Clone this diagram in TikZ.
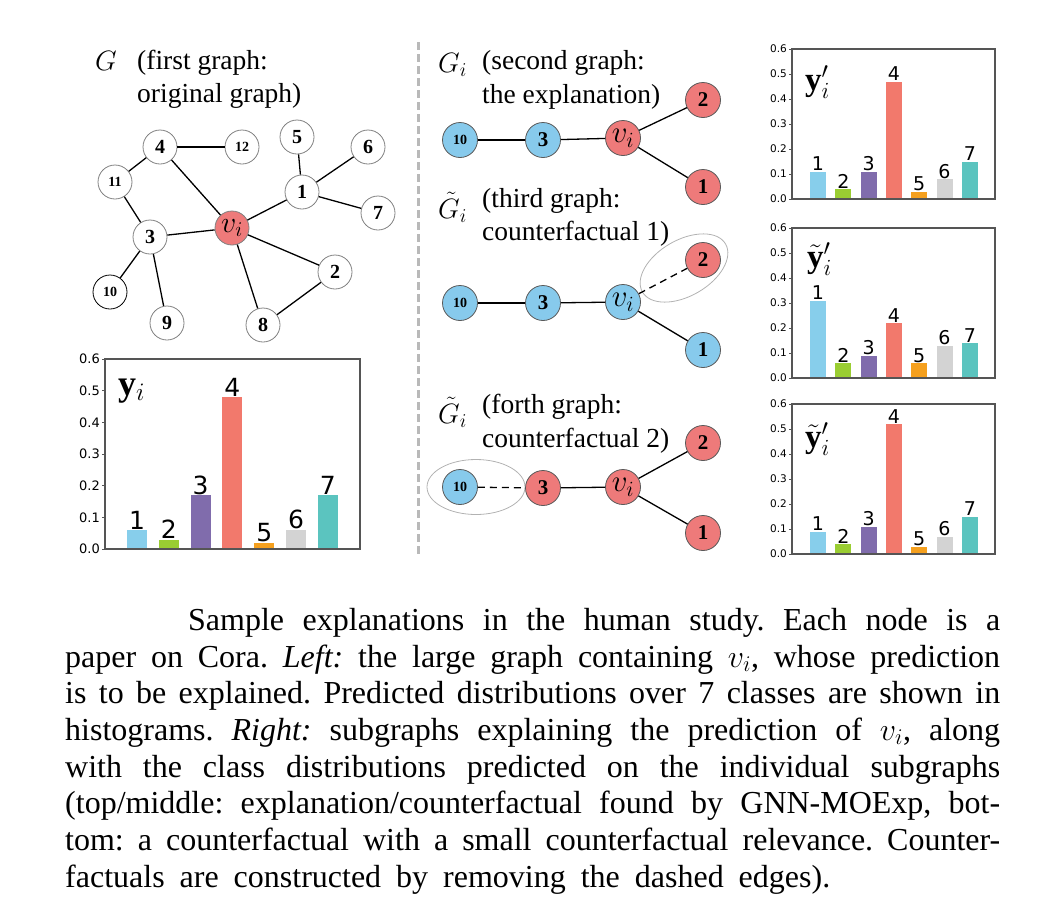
\RequirePackage{fix-cm}
\documentclass[tikz,border=0pt]{standalone}
\usepackage{fontspec}
\setmainfont{Liberation Serif}
\newfontfamily\dejavu{DejaVu Sans}
\usetikzlibrary{shapes.geometric}
\definecolor{bar1}{RGB}{135,206,235}
\definecolor{bar2}{RGB}{154,205,50}
\definecolor{bar3}{RGB}{128,108,172}
\definecolor{bar4}{RGB}{242,121,108}
\definecolor{bar5}{RGB}{245,160,30}
\definecolor{bar6}{RGB}{211,211,211}
\definecolor{bar7}{RGB}{91,196,191}
\definecolor{nred}{RGB}{238,122,122}
\definecolor{nblue}{RGB}{135,202,236}
\definecolor{framegray}{RGB}{85,85,85}
\newcommand{\drawhist}[8]{%
  \pgfmathsetmacro\unitH{(#5-#3)/6}%
  \foreach \v [count=\k] in {#8} {
    \pgfmathsetmacro\cx{#6+(\k-1)*#7}
    \pgfmathsetmacro\ty{#5-\v*10*\unitH}
    \fill[bar\k] (\cx-\hw,#5) rectangle (\cx+\hw,\ty);
    \node[barlab, name=#1b\k] at (\cx,\ty) {\k};
  }
  \foreach \t in {0,...,6} {
    \draw[framegray, line width=0.8pt] (#2,#5-\t*\unitH) -- (#2-3.5,#5-\t*\unitH);
    \node[ticklab, name=#1t\t] at (#2-5,#5-\t*\unitH) {0.\t};
  }
  \draw[framegray, line width=1.2pt] (#2,#3) rectangle (#4,#5);
}
\frenchspacing
\begin{document}
\begin{tikzpicture}[x=1pt,y=-1pt,
  gn/.style={circle, draw=gray, line width=0.8pt, fill=white, minimum size=34pt, inner sep=0pt, font=\fontsize{20}{20}\selectfont\bfseries},
  gs/.style={gn, font=\fontsize{14}{14}\selectfont\bfseries},
  gvi/.style={gn, fill=nred, font=\fontsize{30}{30}\selectfont},
  mn/.style={circle, draw=gray!70!black, line width=0.8pt, minimum size=35pt, inner sep=0pt, font=\fontsize{21}{21}\selectfont\bfseries},
  ms/.style={mn, font=\fontsize{14}{14}\selectfont\bfseries},
  mvi/.style={mn, font=\fontsize{31}{31}\selectfont},
  edge/.style={line width=1.3pt, black},
  dedge/.style={line width=1.3pt, black, dash pattern=on 7pt off 5pt},
  ring/.style={ellipse, draw=gray!60, line width=0.8pt, inner sep=0pt},
  lbl/.style={anchor=base west, inner sep=0pt, font=\fontsize{27.5}{27.5}\selectfont},
  mlbl/.style={anchor=base west, inner sep=0pt, font=\fontsize{28}{28}\selectfont},
  captxt/.style={anchor=base west, inner sep=0pt, font=\fontsize{32}{36}\selectfont},
  ylbl/.style={anchor=base west, inner sep=0pt, font=\fontsize{33}{33}\selectfont}
]
\useasboundingbox (0,0) rectangle (1062,900);

% ---------- left graph
\node[mlbl] (Glab) at (95,70) {$G$};
\node[lbl] (Gt1) at (137,69) {(first graph:};
\node[lbl] (Gt2) at (137,102) {original graph)};
\node[gn] (n4) at (160,147) {4};
\node[gs] (n12) at (242,147) {12};
\node[gn] (n5) at (297,137) {5};
\node[gn] (n6) at (368,147) {6};
\node[gs] (n11) at (115,182) {11};
\node[gn] (n1) at (302,192) {1};
\node[gn] (n7) at (378,213) {7};
\node[gn] (n3) at (150,237) {3};
\node[gvi] (nvi) at (232,228) {$v_i$};
\node[gn] (n2) at (335,272) {2};
\node[gs, draw=black] (n10) at (110,292) {10};
\node[gn] (n9) at (167,323) {9};
\node[gn] (n8) at (263,325) {8};
\draw[edge] (n4) -- (n12);
\draw[edge] (n4) -- (n11);
\draw[edge] (n11) -- (n3);
\draw[edge] (n4) -- (nvi);
\draw[edge] (n3) -- (nvi);
\draw[edge] (n3) -- (n10);
\draw[edge] (n3) -- (n9);
\draw[edge] (nvi) -- (n1);
\draw[edge] (n1) -- (n5);
\draw[edge] (n1) -- (n6);
\draw[edge] (n1) -- (n7);
\draw[edge] (nvi) -- (n2);
\draw[edge] (nvi) -- (n8);
\draw[edge] (n8) -- (n2);

% ---------- separator
\coordinate (sepT) at (418,42);
\coordinate (sepB) at (418,556);
\draw[gray!55, line width=3pt, dash pattern=on 8pt off 4pt] (sepT) -- (sepB);

% ---------- graph 1 (explanation)
\node[mlbl] (G1lab) at (438,72) {$G_i$};
\node[lbl] (G1t1) at (482,69) {(second graph:};
\node[lbl] (G1t2) at (482,103) {the explanation)};
\node[ms, fill=nblue] (a10) at (460,140) {10};
\node[mn, fill=nblue] (a3) at (543,140) {3};
\node[mvi, fill=nred] (avi) at (623,138) {$v_i$};
\node[mn, fill=nred] (a2) at (703,100) {2};
\node[mn, fill=nred] (a1) at (703,187) {1};
\draw[edge] (a10) -- (a3);
\draw[edge] (a3) -- (avi);
\draw[edge] (avi) -- (a2);
\draw[edge] (avi) -- (a1);

% ---------- graph 2 (counterfactual 1)
\node[mlbl] (G2lab) at (438,218) {$\tilde{G}_i$};
\node[lbl] (G2t1) at (482,207) {(third graph:};
\node[lbl] (G2t2) at (482,240) {counterfactual 1)};
\node[ring, minimum width=96pt, minimum height=56pt, rotate=30] (r2) at (684,268) {};
\node[ms, fill=nblue] (b10) at (460,303) {10};
\node[mn, fill=nblue] (b3) at (543,303) {3};
\node[mvi, fill=nblue] (bvi) at (623,302) {$v_i$};
\node[mn, fill=nred] (b2) at (703,260) {2};
\node[mn, fill=nblue] (b1) at (703,350) {1};
\draw[edge] (b10) -- (b3);
\draw[edge] (b3) -- (bvi);
\draw[dedge] (bvi) -- (b2);
\draw[edge] (bvi) -- (b1);

% ---------- graph 3 (counterfactual 2)
\node[mlbl] (G3lab) at (438,423) {$\tilde{G}_i$};
\node[lbl] (G3t1) at (482,413) {(forth graph:};
\node[lbl] (G3t2) at (482,447) {counterfactual 2)};
\node[ring, minimum width=98pt, minimum height=55pt] (r3) at (476,487) {};
\node[ms, fill=nblue] (c10) at (460,487) {10};
\node[mn, fill=nred] (c3) at (543,488) {3};
\node[mvi, fill=nred] (cvi) at (623,487) {$v_i$};
\node[mn, fill=nred] (c2) at (703,443) {2};
\node[mn, fill=nred] (c1) at (703,533) {1};
\draw[dedge] (c10) -- (c3);
\draw[edge] (c3) -- (cvi);
\draw[edge] (cvi) -- (c2);
\draw[edge] (cvi) -- (c1);

% ---------- left histogram
\def\hw{10}
\tikzset{barlab/.style={anchor=south, inner sep=0.5pt, font=\dejavu\fontsize{25}{25}\selectfont},
         ticklab/.style={anchor=east, inner sep=0pt, font=\dejavu\fontsize{13}{13}\selectfont}}
\drawhist{L}{105}{359}{360}{549}{137}{31.8}{0.06,0.03,0.17,0.48,0.02,0.06,0.17}
\node[ylbl, font=\fontsize{36}{36}\selectfont] (yL) at (118,395) {$\mathbf{y}_i$};

% ---------- right histograms
\def\hw{8}
\tikzset{barlab/.style={anchor=south, inner sep=0.5pt, font=\dejavu\fontsize{19}{19}\selectfont},
         ticklab/.style={anchor=east, inner sep=0pt, font=\dejavu\fontsize{10.5}{10.5}\selectfont}}
\drawhist{A}{792}{49}{995}{199}{818}{25.3}{0.11,0.04,0.11,0.47,0.03,0.08,0.15}
\node[ylbl] (yA) at (805,90) {$\mathbf{y}'_i$};
\drawhist{B}{792}{228}{995}{378}{818}{25.3}{0.31,0.06,0.09,0.22,0.06,0.13,0.14}
\node[ylbl] (yB) at (807,267) {$\tilde{\mathbf{y}}'_i$};
\drawhist{C}{792}{404}{995}{554}{818}{25.3}{0.09,0.04,0.11,0.52,0.03,0.07,0.15}
\node[ylbl] (yC) at (805,447) {$\tilde{\mathbf{y}}'_i$};

% ---------- caption
\node[captxt] (c1l) at (188,630) {\makebox[812pt][s]{Sample explanations in the human study. Each node is a}};
\node[captxt] (c2l) at (65,667) {\makebox[935pt][s]{paper on Cora. \textit{Left:} the large graph containing $v_i$, whose prediction}};
\node[captxt] (c3l) at (65,703) {\makebox[935pt][s]{is to be explained. Predicted distributions over 7 classes are shown in}};
\node[captxt] (c4l) at (65,740) {\makebox[935pt][s]{histograms. \textit{Right:} subgraphs explaining the prediction of $v_i$, along}};
\node[captxt] (c5l) at (65,777) {\makebox[935pt][s]{with the class distributions predicted on the individual subgraphs}};
\node[captxt] (c6l) at (65,813) {\makebox[935pt][s]{(top/middle: explanation/counterfactual found by GNN-MOExp, bot-}};
\node[captxt] (c7l) at (65,850) {\makebox[935pt][s]{tom: a counterfactual with a small counterfactual relevance. Counter-}};
\node[captxt] (c8l) at (65,887) {\makebox[765pt][s]{factuals are constructed by removing the dashed edges).}};
\end{tikzpicture}
\end{document}
